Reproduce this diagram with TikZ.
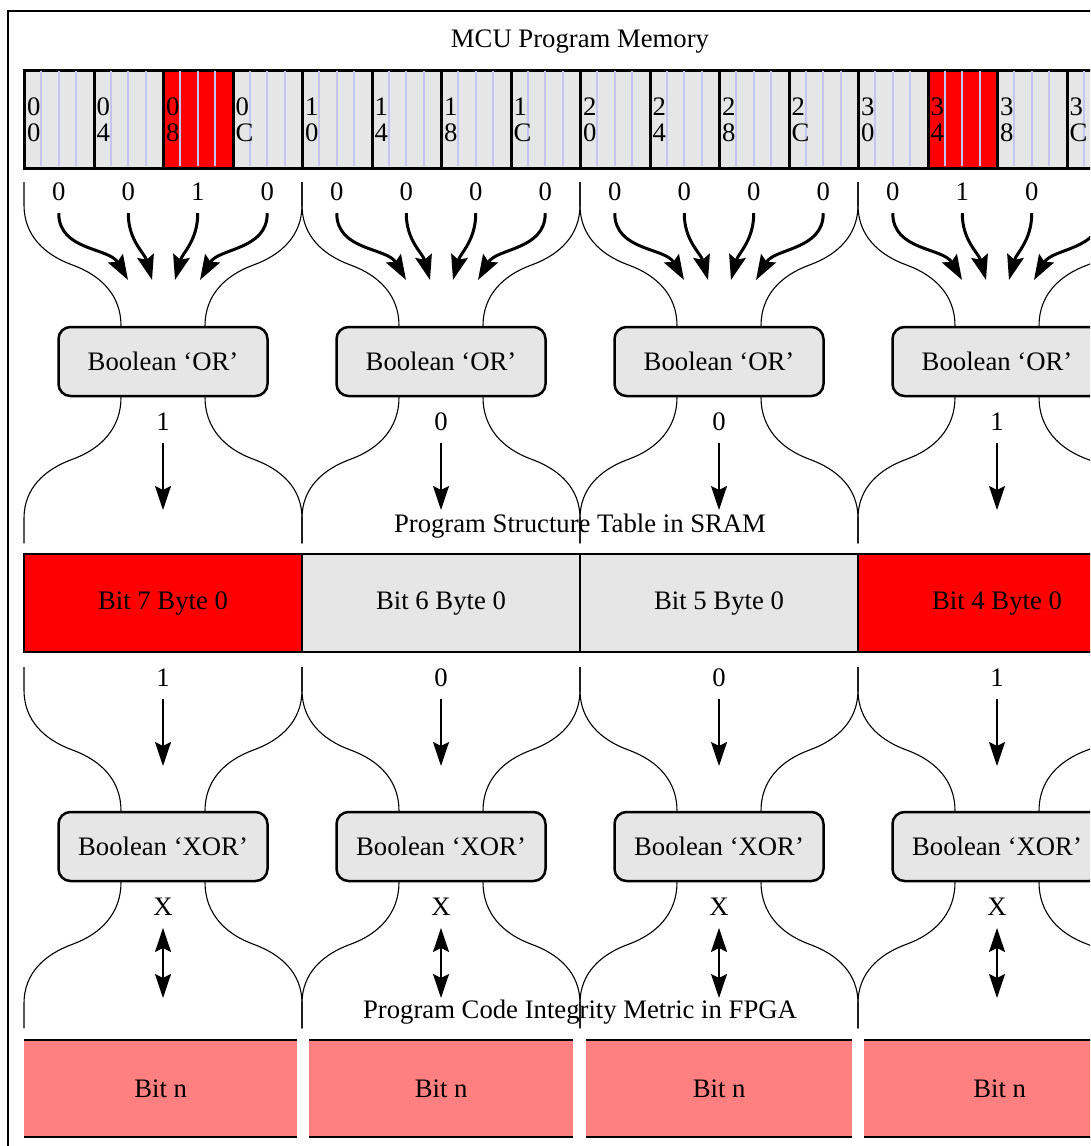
\documentclass[tikz,border=0pt]{standalone}
\usepackage{fontspec}
\setmainfont{Liberation Serif}
\usepackage{tikz}
\usetikzlibrary{arrows.meta}
\definecolor{cellgray}{HTML}{E6E6E6}
\definecolor{bitred}{HTML}{FF0000}
\definecolor{metricpink}{HTML}{FF8080}
\definecolor{wordline}{HTML}{C4C4EE}

\begin{document}
\begin{tikzpicture}[x=1pt, y=1pt, font=\fontsize{26.7}{26}\selectfont,
  memcell/.style={draw, line width=2pt, anchor=north west, minimum width=69.5pt, minimum height=97pt, inner sep=0pt},
  hexlbl/.style={anchor=west, align=left, inner sep=3pt},
  bitlbl/.style={inner xsep=2pt, inner ysep=12pt},
  gate/.style={draw, line width=2.5pt, fill=cellgray, rounded corners=12pt, minimum width=209pt, minimum height=69pt},
  tablecell/.style={draw, line width=2pt, minimum width=278pt, minimum height=98pt},
  metric/.style={fill=metricpink, anchor=north west, minimum height=97pt, inner sep=0pt},
  brace/.style={line width=1.1pt},
  fatarrow/.style={line width=3pt, -{Stealth[length=25pt, width=17pt, inset=4pt]}},
  thinarrow/.style={line width=2pt, -{Stealth[length=24pt, width=16pt, inset=4pt]}},
  dblarrow/.style={line width=2pt, {Stealth[length=24pt, width=16pt, inset=4pt]}-{Stealth[length=24pt, width=16pt, inset=4pt]}}]
  \useasboundingbox (0,0) rectangle (1090,-1146);
  \clip (0,0) rectangle (1090,-1146);

  % Frame and titles
  \draw[line width=2pt] (8,-11) rectangle (1300,-1300);
  \node (title) at (580,-42) {MCU Program Memory};

  % Program memory words
  \foreach \hi/\lo/\b [count=\i from 0] in {0/0/0, 0/4/0, 0/8/1, 0/C/0, 1/0/0, 1/4/0, 1/8/0, 1/C/0,
      2/0/0, 2/4/0, 2/8/0, 2/C/0, 3/0/0, 3/4/1, 3/8/0, 3/C/0}{
    \pgfmathsetmacro\xa{24+69.5*\i}
    \ifnum\b=1 \def\cellfill{bitred}\else\def\cellfill{cellgray}\fi
    \node[memcell, fill=\cellfill] (c\i) at (\xa,-70) {};
    \foreach \q in {1,2,3}
      \draw[wordline, line width=2pt] (\xa+17.375*\q,-71) -- ++(0,-95);
    \draw[line width=2pt] (c\i.north west) rectangle (c\i.south east);
    \node[hexlbl] (m\i) at (c\i.west) {\hi\\\lo};
    % last bit lies past the right edge
    \ifnum\i<15 \def\bittxt{\b}\else\def\bittxt{}\fi
    \node[bitlbl, minimum height=42pt] (d\i) at (\xa+34.75,-192) {\bittxt};
    % curved inputs to the OR gate
    \pgfmathtruncatemacro\j{mod(\i,4)}
    \pgfmathtruncatemacro\k{div(\i,4)}
    \pgfmathsetmacro\tx{163+278*\k+{-35,-11,12,37}[\j]}
    \pgfmathsetmacro\ang{{120,105,75,60}[\j]}
    \coordinate (t\i) at (\tx,-280);
    \draw[fatarrow] (d\i.south) to[out=-90,in=\ang] (t\i);
  }

  % OR / SRAM / XOR columns
  \foreach \bit/\bitno/\fillcol [count=\k from 0] in {1/7/bitred, 0/6/cellgray, 0/5/cellgray, 1/4/bitred}{
    \pgfmathsetmacro\xl{24+278*\k}
    \pgfmathsetmacro\xc{\xl+139}
    \pgfmathsetmacro\xr{\xl+278}
    \node[gate] (or\k) at (\xc,-361.5) {Boolean ‘OR’};
    \node[bitlbl] (o\k) at (\xc,-422) {\bit};
    \coordinate (ot\k) at (\xc,-510);
    \draw[thinarrow] (o\k.south) -- (ot\k);
    \node[tablecell, fill=\fillcol] (s\k) at (\xc,-603) {Bit \bitno{} Byte 0};
    \node[bitlbl] (so\k) at (\xc,-678) {\bit};
    \coordinate (st\k) at (\xc,-766);
    \draw[thinarrow] (so\k.south) -- (st\k);
    \node[gate] (xor\k) at (\xc,-846.5) {Boolean ‘XOR’};
    \node[bitlbl] (x\k) at (\xc,-907) {X};
    \coordinate (xt\k) at (\xc,-998);
    \draw[dblarrow] (x\k.south) -- (xt\k);
    % funnels into the gates
    \foreach \ya/\g in {182/or, 667/xor}{
      \draw[brace] (\xl,-\ya) -- ++(0,-23) to[out=-90,in=160] ++(48.5,-60) to[out=-20,in=90] ([xshift=-42pt]\g\k.north);
      \draw[brace] (\xr,-\ya) -- ++(0,-23) to[out=-90,in=20] ++(-48.5,-60) to[out=200,in=90] ([xshift=42pt]\g\k.north);
    }
    % funnels out of the gates
    \foreach \g in {or, xor}{
      \draw[brace] ([xshift=-42pt]\g\k.south) to[out=-90,in=20] ++(-48.5,-62) to[out=200,in=90] ++(-48.5,-59) -- ++(0,-25);
      \draw[brace] ([xshift=42pt]\g\k.south) to[out=-90,in=160] ++(48.5,-62) to[out=-20,in=90] ++(48.5,-59) -- ++(0,-25);
    }
  }
  \node (sramlbl) at (580,-526) {Program Structure Table in SRAM};

  % Integrity metric in FPGA
  \node (fpgalbl) at (580,-1012) {Program Code Integrity Metric in FPGA};
  \foreach \xa/\xb [count=\k from 0] in {24/297, 309/573, 586/852, 864/1135}{
    \node[metric, minimum width={(\xb-\xa)*1pt}] (f\k) at (\xa,-1040) {Bit n};
    \draw[line width=2pt] (f\k.north west) -- (f\k.north east) (f\k.south west) -- (f\k.south east);
  }
\end{tikzpicture}
\end{document}
